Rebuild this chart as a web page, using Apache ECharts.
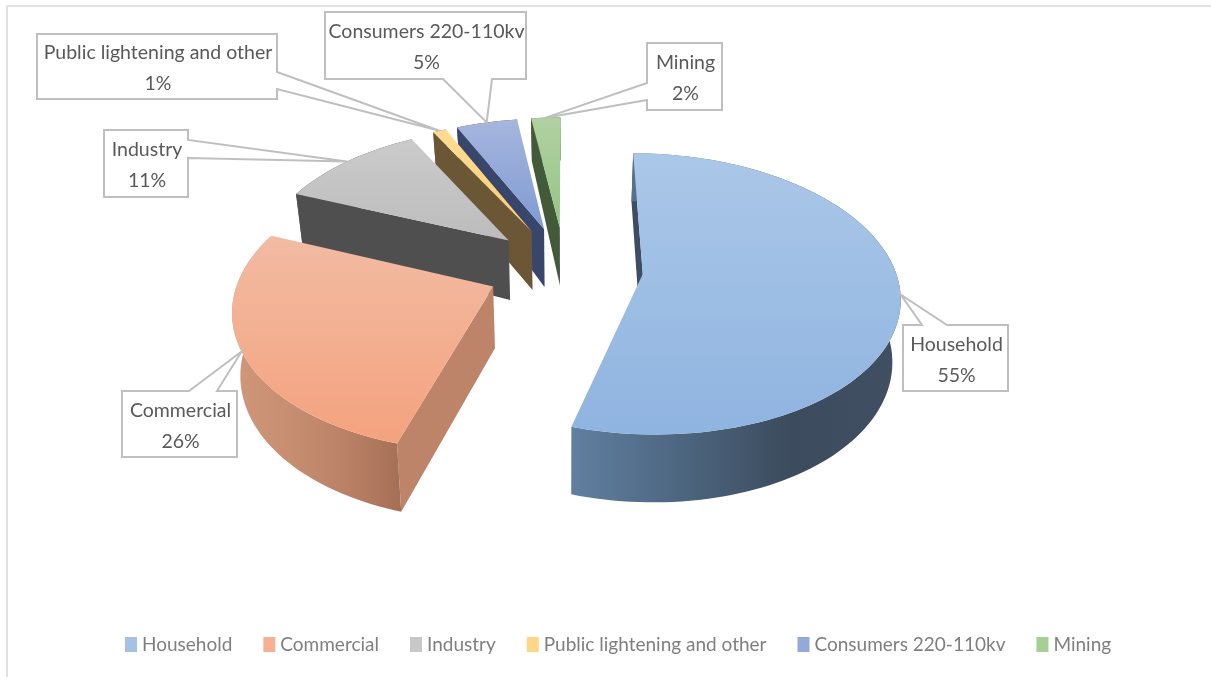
<!DOCTYPE html>
<html>
<head>
<meta charset="utf-8">
<style>html,body{margin:0;padding:0;background:#fff}#c{width:1211px;height:677px}</style>
<script src="https://cdn.jsdelivr.net/npm/echarts@6/dist/echarts.min.js"></script>
</head>
<body>
<div id="c"></div>
<script>
// ---- data ----
const categories = ['Household','Commercial','Industry','Public lightening and other','Consumers 220-110kv','Mining'];
const values = [54.6, 26.6, 11, 1.0, 4.6, 2.2];
const percentLabels = ['55%','26%','11%','1%','5%','2%'];

// ---- styles ----
const topColors = [['#abc7e8','#8fb4e0'],['#f2bba3','#f4a27e'],['#cbcbcb','#bcbcbc'],['#ffdc94','#ffce6e'],['#a6b6dd','#7f9ad3'],['#b0d1a2','#95c584']];
const legendColors = ['#a3c2e6','#f6b093','#c8c8c8','#ffd588','#93a9d9','#a6cf95'];
const wallColors = [['#617fa1','#4d6680','#3c4b5d','#404f62'],['#d0977b','#c88e72','#bb8166','#a56f55'],['#4f4f4f','#4f4f4f','#4f4f4f','#4f4f4f'],['#6b5636','#6b5636','#6b5636','#6b5636'],['#39466b','#39466b','#39466b','#39466b'],['#42593a','#42593a','#42593a','#42593a']];
const cutColors = ['#3d4d63','#bd8469','#4f4f4f','#6b5636','#39466b','#42593a'];
const drawOrder = [6,5,4,3,2,1];

// ---- projection of the exploded pie ----
const view = {ox:565, oy:268, r:252, tilt:0.54, persp:0.14, explode:0.31, shrink:0.975};
// ---- callout boxes: [x0,y0,x1,y1, side, base a, base b] ----
const boxes = [
  [903,325,1008,391,'top',922,947],
  [122,391,237,457,'top',189,217],
  [104,130,188,197,'right',140,158],
  [37,34,277,99,'right',72,89],
  [325,12,526,79,'bottom',443,492],
  [647,43,722,110,'left',83,100]
];
const labelFont = '19.5px Lato, sans-serif';

const total = values.reduce((a,b)=>a+b,0);
const rad = v => v/total*Math.PI*2;
function span(i){ let s=0; for(let k=0;k<i;k++) s+=rad(values[k]); return [s,s+rad(values[i])]; }
function project(th, r, mid){
  const X = view.explode*Math.sin(mid)+r*Math.sin(th);
  const Y = -(view.explode*Math.cos(mid)+r*Math.cos(th));
  const s = 1/(1-view.persp*Y);
  return [view.ox+view.r*X*s, view.oy+view.r*view.tilt*Y*s, s];
}
function drop(p){
  const s=p[2];
  const d = s<0.975 ? 60-(0.975-s)*130 : 60+(s-0.975)*40;
  return [view.ox+(p[0]-view.ox)*view.shrink, p[1]+d];
}
const xy = p => [p[0],p[1]];
function grad(c,horizontal){
  const n=c.length;
  return new echarts.graphic.LinearGradient(0,0,horizontal?1:0,horizontal?0:1,c.map((col,i)=>({offset:i/(n-1),color:col})));
}
function slice(i){
  return function(){
    const [a,b]=span(i), mid=(a+b)/2, arc=[];
    const n=Math.max(4,Math.ceil((b-a)/0.03));
    for(let k=0;k<=n;k++) arc.push(project(a+(b-a)*k/n,1,mid));
    const apex=project(mid,0,mid);
    const children=[];
    children.push({type:'polygon',shape:{points:[xy(apex),xy(arc[0]),drop(arc[0]),drop(apex)]},style:{fill:cutColors[i]}});
    children.push({type:'polygon',shape:{points:arc.map(xy).concat(arc.slice().reverse().map(drop))},style:{fill:grad(wallColors[i],true)}});
    children.push({type:'polygon',shape:{points:[xy(apex)].concat(arc.map(xy))},style:{fill:grad(topColors[i],false)}});
    return {type:'group',children};
  };
}
function callout(params){
  const i=params.dataIndex, [a,b]=span(i), mid=(a+b)/2;
  const tip=xy(project(mid,1,mid));
  const [x0,y0,x1,y1,side,p,q]=boxes[i];
  let pts;
  if(side==='top') pts=[[x0,y0],[p,y0],tip,[q,y0],[x1,y0],[x1,y1],[x0,y1]];
  if(side==='bottom') pts=[[x0,y0],[x1,y0],[x1,y1],[q,y1],tip,[p,y1],[x0,y1]];
  if(side==='right') pts=[[x0,y0],[x1,y0],[x1,p],tip,[x1,q],[x1,y1],[x0,y1]];
  if(side==='left') pts=[[x0,y0],[x1,y0],[x1,y1],[x0,y1],[x0,q],tip,[x0,p]];
  return {type:'group',children:[
    {type:'polygon',shape:{points:pts},style:{fill:'#fff',stroke:'#bfbfbf',lineWidth:2}},
    {type:'text',style:{text:categories[i]+'\n'+percentLabels[i],x:(x0+x1)/2+1,y:(y0+y1)/2+2,align:'center',verticalAlign:'middle',font:labelFont,lineHeight:31,fill:'#595959'}}
  ]};
}

const chart = echarts.init(document.getElementById('c'),null,{renderer:'canvas'});
const series = categories.map((name,i)=>({
  type:'custom',name,coordinateSystem:'none',z:drawOrder[i],silent:true,animation:false,
  itemStyle:{color:legendColors[i]},data:[values[i]],renderItem:slice(i)
}));
series.push({type:'custom',name:'labels',coordinateSystem:'none',z:20,silent:true,animation:false,
  data:values,renderItem:callout});
chart.setOption({
  animation:false,
  backgroundColor:'#fff',
  legend:{data:categories,left:120,top:630,itemWidth:12,itemHeight:15,itemGap:31,icon:'rect',selectedMode:false,
    textStyle:{color:'#7f7f7f',fontFamily:'Lato, sans-serif',fontSize:19}},
  graphic:[
    {type:'line',shape:{x1:6.5,y1:6,x2:1211,y2:6},style:{stroke:'#e0e0e0',lineWidth:2}},
    {type:'line',shape:{x1:7,y1:6,x2:7,y2:677},style:{stroke:'#e0e0e0',lineWidth:2}}
  ],
  series
});
</script>
</body>
</html>
